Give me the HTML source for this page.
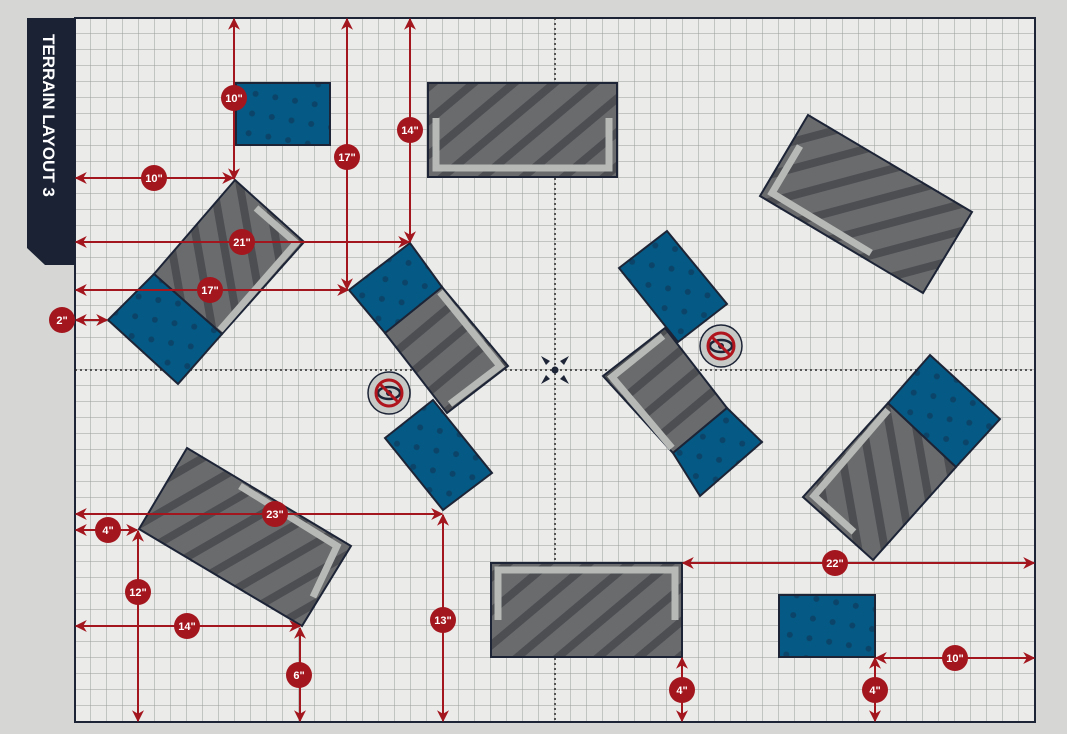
<!DOCTYPE html>
<html><head><meta charset="utf-8"><style>
html,body{margin:0;padding:0;background:#d6d7d4;}
svg{display:block;}
text{font-family:"Liberation Sans",sans-serif;font-weight:bold;}
</style></head><body>
<svg width="1067" height="734" viewBox="0 0 1067 734" xmlns="http://www.w3.org/2000/svg">
<defs>
<pattern id="grid" x="75" y="18" width="16" height="16" patternUnits="userSpaceOnUse">
<path d="M16 0V16H0" fill="none" stroke="#9a9c9c" stroke-width="1"/>
</pattern>
<pattern id="s1" width="26" height="26" patternUnits="userSpaceOnUse" patternTransform="rotate(-40)">
<rect width="26" height="26" fill="#6a6b6d"/><rect width="26" height="8" fill="#4c4e52"/>
</pattern>
<pattern id="s2" width="26" height="26" patternUnits="userSpaceOnUse" patternTransform="rotate(-15)">
<rect width="26" height="26" fill="#6a6b6d"/><rect width="26" height="8" fill="#4c4e52"/>
</pattern>
<pattern id="s3" width="26" height="26" patternUnits="userSpaceOnUse" patternTransform="rotate(80)">
<rect width="26" height="26" fill="#6a6b6d"/><rect width="26" height="8" fill="#4c4e52"/>
</pattern>
<pattern id="s4" width="26" height="26" patternUnits="userSpaceOnUse" patternTransform="rotate(-30)">
<rect width="26" height="26" fill="#6a6b6d"/><rect width="26" height="8" fill="#4c4e52"/>
</pattern>
<pattern id="dots" width="20" height="20" patternUnits="userSpaceOnUse" patternTransform="rotate(10)">
<rect width="20" height="20" fill="#045a84"/><circle cx="8" cy="8" r="3" fill="#0b4468"/>
</pattern>
<marker id="ar" viewBox="0 0 10 10" refX="9" refY="5" markerWidth="12" markerHeight="12" markerUnits="userSpaceOnUse" orient="auto-start-reverse">
<path d="M0 0L10 5L0 10L3 5Z" fill="#a3161e"/>
</marker>
</defs>
<rect width="1067" height="734" fill="#d6d7d4"/>
<!-- board -->
<rect x="75" y="18" width="960" height="704" fill="#ebebe9"/>
<rect x="75" y="18" width="960" height="704" fill="url(#grid)"/>
<rect x="75" y="18" width="960" height="704" fill="none" stroke="#1c2436" stroke-width="2"/>
<line x1="555" y1="18" x2="555" y2="722" stroke="#222" stroke-width="1.5" stroke-dasharray="2 3"/>
<line x1="75" y1="370" x2="1035" y2="370" stroke="#222" stroke-width="1.5" stroke-dasharray="2 3"/>
<!-- center marker -->
<g fill="#1c2436">
<circle cx="555" cy="370" r="3.5"/>
<path d="M541 356l9 5 -4 4z M569 356l-9 5 4 4z M541 384l9 -5 -4 -4z M569 384l-9 -5 4 -4z"/>
</g>
<!-- title tab -->
<path d="M27 18H75V265H45L27 248Z" fill="#1a2234"/>
<text transform="translate(43,34) rotate(90)" fill="#fff" font-size="17">TERRAIN LAYOUT 3</text>

<g stroke="#1c2436" stroke-width="2" stroke-linejoin="miter">
<!-- blue top-left -->
<rect x="236" y="83" width="94" height="62" fill="url(#dots)"/>
<!-- gray top center -->
<rect x="428" y="83" width="189" height="94" fill="url(#s1)"/>
<!-- top right -->
<polygon points="808,115 972,212 923,293 760,196" fill="url(#s2)"/>
<!-- left piece -->
<polygon points="235,180 304,242 222,334 154,274" fill="url(#s3)"/>
<polygon points="154,274 222,334 178,384 108,320" fill="url(#dots)"/>
<!-- center-left -->
<polygon points="442,287 508,366 447,413 385,333" fill="url(#s1)"/>
<polygon points="349,290 410,243 442,287 385,333" fill="url(#dots)"/>
<polygon points="385,438 433,400 492,473 443,510" fill="url(#dots)"/>
<!-- center-right -->
<polygon points="619,268 667,231 727,304 678,342" fill="url(#dots)"/>
<polygon points="603,376 665,328 727,408 673,453" fill="url(#s1)"/>
<polygon points="727,408 762,442 700,496 673,453" fill="url(#dots)"/>
<!-- right middle -->
<polygon points="888,403 956,467 873,560 803,497" fill="url(#s3)"/>
<polygon points="930,355 1000,419 956,467 888,403" fill="url(#dots)"/>
<!-- lower-left -->
<polygon points="187,448 351,546 302,626 139,529" fill="url(#s4)"/>
<!-- bottom gray -->
<rect x="491" y="563" width="191" height="94" fill="url(#s1)"/>
<!-- bottom right blue -->
<rect x="779" y="595" width="96" height="62" fill="url(#dots)"/>
</g>
<!-- light frames -->
<g fill="none" stroke="#b6b9b6" stroke-width="7" stroke-linejoin="miter">
<polyline points="436,118 436,168 609,168 609,118"/>
<polyline points="800,146 772,193 871,253"/>
<polyline points="256,208 296,243 220,330"/>
<polyline points="440,292 500,366 450,404"/>
<polyline points="663,336 612,377 672,448"/>
<polyline points="888,410 814,496 854,532"/>
<polyline points="240,486 337,546 313,597"/>
<polyline points="498,620 498,570 675,570 675,620"/>
</g>
<!-- eye icons -->
<g>
<circle cx="389" cy="393" r="21" fill="#c7c9c7" stroke="#1c2436" stroke-width="1.5"/>
<ellipse cx="389" cy="393" rx="11" ry="6" fill="none" stroke="#1c2436" stroke-width="2.5"/>
<circle cx="389" cy="393" r="3" fill="#1c2436"/>
<circle cx="389" cy="393" r="13" fill="none" stroke="#b0141c" stroke-width="3"/>
<line x1="380" y1="384" x2="398" y2="402" stroke="#b0141c" stroke-width="3"/>
<circle cx="721" cy="346" r="21" fill="#c7c9c7" stroke="#1c2436" stroke-width="1.5"/>
<ellipse cx="721" cy="346" rx="11" ry="6" fill="none" stroke="#1c2436" stroke-width="2.5"/>
<circle cx="721" cy="346" r="3" fill="#1c2436"/>
<circle cx="721" cy="346" r="13" fill="none" stroke="#b0141c" stroke-width="3"/>
<line x1="712" y1="337" x2="730" y2="355" stroke="#b0141c" stroke-width="3"/>
</g>
<!-- dimension lines -->
<g stroke="#a3161e" stroke-width="2" marker-start="url(#ar)" marker-end="url(#ar)">
<line x1="234" y1="19" x2="234" y2="179"/>
<line x1="76" y1="178" x2="233" y2="178"/>
<line x1="347" y1="19" x2="347" y2="289"/>
<line x1="410" y1="19" x2="410" y2="242"/>
<line x1="76" y1="242" x2="409" y2="242"/>
<line x1="76" y1="290" x2="348" y2="290"/>
<line x1="76" y1="320" x2="107" y2="320"/>
<line x1="76" y1="514" x2="442" y2="514"/>
<line x1="76" y1="530" x2="137" y2="530"/>
<line x1="138" y1="531" x2="138" y2="721"/>
<line x1="76" y1="626" x2="300" y2="626"/>
<line x1="300" y1="628" x2="300" y2="721"/>
<line x1="443" y1="515" x2="443" y2="721"/>
<line x1="682" y1="658" x2="682" y2="721"/>
<line x1="683" y1="563" x2="1034" y2="563"/>
<line x1="875" y1="658" x2="875" y2="721"/>
<line x1="876" y1="658" x2="1034" y2="658"/>
</g>
<g fill="#a3161e">
<circle cx="234" cy="98" r="13"/><circle cx="154" cy="178" r="13"/>
<circle cx="347" cy="157" r="13"/><circle cx="410" cy="130" r="13"/>
<circle cx="242" cy="242" r="13"/><circle cx="210" cy="290" r="13"/>
<circle cx="62" cy="320" r="13"/><circle cx="275" cy="514" r="13"/>
<circle cx="108" cy="530" r="13"/><circle cx="138" cy="592" r="13"/>
<circle cx="187" cy="626" r="13"/><circle cx="299" cy="675" r="13"/>
<circle cx="443" cy="620" r="13"/><circle cx="682" cy="690" r="13"/>
<circle cx="835" cy="563" r="13"/><circle cx="875" cy="690" r="13"/>
<circle cx="955" cy="658" r="13"/>
</g>
<g fill="#fff" font-size="11" text-anchor="middle">
<text x="234" y="102">10"</text><text x="154" y="182">10"</text>
<text x="347" y="161">17"</text><text x="410" y="134">14"</text>
<text x="242" y="246">21"</text><text x="210" y="294">17"</text>
<text x="62" y="324">2"</text><text x="275" y="518">23"</text>
<text x="108" y="534">4"</text><text x="138" y="596">12"</text>
<text x="187" y="630">14"</text><text x="299" y="679">6"</text>
<text x="443" y="624">13"</text><text x="682" y="694">4"</text>
<text x="835" y="567">22"</text><text x="875" y="694">4"</text>
<text x="955" y="662">10"</text>
</g>
</svg>
</body></html>
